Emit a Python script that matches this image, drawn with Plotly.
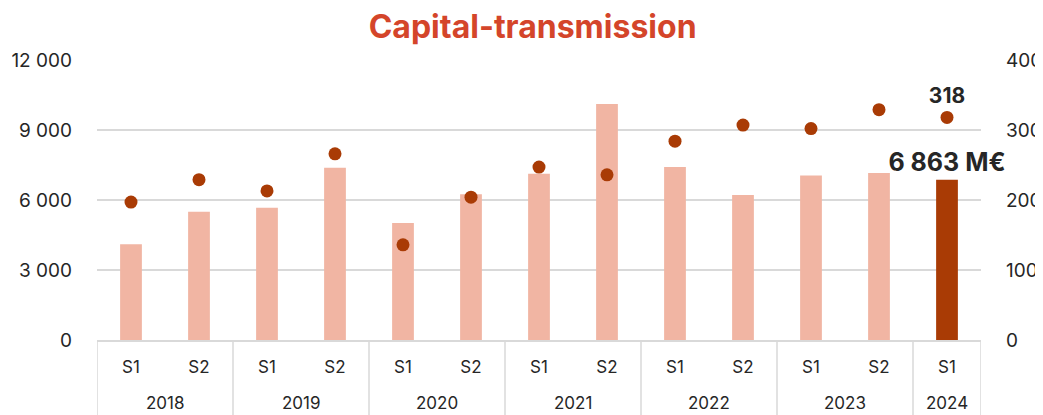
import plotly.graph_objects as go

years = ["2018", "2018", "2019", "2019", "2020", "2020", "2021", "2021",
         "2022", "2022", "2023", "2023", "2024"]
halves = ["S1", "S2", "S1", "S2", "S1", "S2", "S1", "S2",
          "S1", "S2", "S1", "S2", "S1"]
amounts = [4100, 5500, 5670, 7380, 5010, 6250, 7130, 10110,
           7410, 6210, 7050, 7160, 6863]
deals = [197, 229, 213, 266, 136, 204, 247, 236, 284, 307, 302, 329, 318]

light = "#F1B5A3"
dark = "#A93B05"
grid = "#D9D9D9"
font_family = "Inter, Lato, sans-serif"
text_col = "#262626"

n = len(amounts)
cats = [f"{y} {h}" for y, h in zip(years, halves)]
bar_colors = [light] * (n - 1) + [dark]
bar_text = [""] * (n - 1) + [f"{amounts[-1]:,}".replace(",", " ") + " M€"]
dot_text = [""] * (n - 1) + [str(deals[-1])]

fig = go.Figure()
fig.add_trace(go.Bar(
    x=cats, y=amounts, marker_color=bar_colors, marker_line_width=0,
    text=bar_text, textposition="outside", cliponaxis=False,
    constraintext="none",
    textfont=dict(family=font_family, size=25, color=text_col, weight="bold"),
    hoverinfo="skip", showlegend=False,
))
fig.add_trace(go.Scatter(
    x=cats, y=deals, yaxis="y2", mode="markers+text",
    marker=dict(color=dark, size=13),
    text=dot_text, textposition="top center", cliponaxis=False,
    textfont=dict(family=font_family, size=21, color=text_col, weight="bold"),
    hoverinfo="skip", showlegend=False,
))

# year group labels and dividers below the axis
groups = []
for i, y in enumerate(years):
    if not groups or groups[-1][0] != y:
        groups.append([y, i, i])
    else:
        groups[-1][2] = i
shapes = []
annotations = []
for y, i0, i1 in groups:
    annotations.append(dict(x=(i0 + i1) / 2, xref="x", y=-0.225, yref="paper",
                            text=y, showarrow=False, yanchor="middle",
                            font=dict(family=font_family, size=17, color=text_col)))
    shapes.append(dict(type="line", xref="x", yref="paper", x0=i0 - 0.5, x1=i0 - 0.5,
                       y0=0, y1=-0.35, line=dict(color=grid, width=1.5)))
shapes.append(dict(type="line", xref="x", yref="paper", x0=n - 0.5, x1=n - 0.5,
                   y0=0, y1=-0.35, line=dict(color=grid, width=1.5)))

fig.update_layout(
    width=1043, height=415,
    margin=dict(l=89, r=70, t=52, b=83, autoexpand=False),
    paper_bgcolor="white", plot_bgcolor="white",
    separators=", ",
    bargap=0.68,
    font=dict(family=font_family, size=16, color=text_col),
    title=dict(text="<b>Capital-transmission</b>", x=0.503, xref="container",
               xanchor="center", y=0.954, yref="container", yanchor="middle",
               font=dict(family=font_family, size=32, color="#D4452A")),
    xaxis=dict(type="category", range=[-0.5, n - 0.5], automargin=False,
               tickvals=cats, ticktext=halves,
               showline=True, linecolor=grid, linewidth=1.5,
               ticks="", ticklabelstandoff=11,
               tickfont=dict(size=17, color=text_col),
               showgrid=False),
    yaxis=dict(range=[0, 12000], tickvals=[0, 3000, 6000, 9000, 12000],
               tickformat=",d", showgrid=True, gridcolor=grid, gridwidth=1.5,
               zeroline=False, showline=False, ticks="", ticklabelstandoff=24,
               automargin=False, tickfont=dict(size=19, color=text_col)),
    yaxis2=dict(range=[0, 400], tickvals=[0, 100, 200, 300, 400],
                overlaying="y", side="right", showgrid=False, zeroline=False,
                showline=False, ticks="", ticklabelstandoff=24, automargin=False,
                tickfont=dict(size=19, color=text_col)),
    shapes=shapes,
    annotations=annotations,
)

fig.write_html("out.html")
